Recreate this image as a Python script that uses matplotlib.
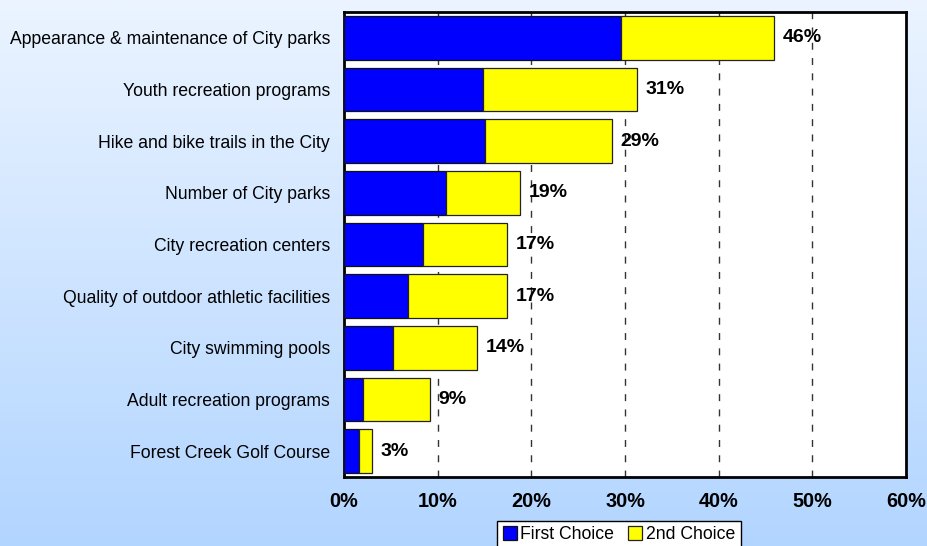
import numpy as np
import matplotlib
matplotlib.use("Agg")
import matplotlib.pyplot as plt
from matplotlib.colors import LinearSegmentedColormap

plt.rcParams['font.family'] = ['Liberation Sans', 'DejaVu Sans']

categories = [
    "Appearance & maintenance of City parks",
    "Youth recreation programs",
    "Hike and bike trails in the City",
    "Number of City parks",
    "City recreation centers",
    "Quality of outdoor athletic facilities",
    "City swimming pools",
    "Adult recreation programs",
    "Forest Creek Golf Course",
]
first_choice = [29.6, 14.8, 15.0, 10.9, 8.4, 6.8, 5.2, 2.0, 1.6]
second_choice = [16.3, 16.5, 13.6, 7.9, 9.0, 10.6, 9.0, 7.2, 1.4]
x_ticks = [0, 10, 20, 30, 40, 50, 60]
series_names = ["First Choice", "2nd Choice"]

fig = plt.figure(figsize=(9.28, 5.46), dpi=100)

# vertical background gradient
bg = fig.add_axes([0, 0, 1, 1], zorder=-10)
cmap = LinearSegmentedColormap.from_list("bg", ["#ebf4ff", "#b2d5ff"])
bg.imshow(np.linspace(0, 1, 256).reshape(-1, 1), aspect="auto", cmap=cmap,
          extent=[0, 1, 0, 1], origin="upper")
bg.set_axis_off()

ax = fig.add_axes([344 / 928, 1 - 477 / 546, 562 / 928, 465 / 546])
ax.set_facecolor("white")

y = np.arange(len(categories))
totals = [a + b for a, b in zip(first_choice, second_choice)]
ax.barh(y, first_choice, height=0.85, color="#0000ff", edgecolor="#111111",
        linewidth=0.9, zorder=3, label=series_names[0])
ax.barh(y, second_choice, left=first_choice, height=0.85, color="#ffff00",
        edgecolor="#222222", linewidth=0.9, zorder=3, label=series_names[1])

for yi, t in zip(y, totals):
    ax.annotate(f"{round(t):.0f}%", xy=(t, yi), xytext=(6, 0),
                textcoords="offset points", va="center", ha="left",
                fontsize=14, fontweight="bold", color="black", zorder=4)

ax.set_xlim(0, 60)
ax.set_ylim(len(categories) - 0.5, -0.5)
ax.set_xticks(x_ticks)
ax.set_xticklabels([f"{v}%" for v in x_ticks], fontsize=14.3, fontweight="bold")
ax.set_yticks(y)
ax.set_yticklabels(categories, fontsize=12.7)
ax.tick_params(axis="x", length=0, pad=11)
ax.tick_params(axis="y", length=0, pad=10)

for v in x_ticks[1:-1]:
    ax.axvline(v, color="#333333", linewidth=1.0, linestyle=(0, (5, 6)), zorder=1)

for s in ax.spines.values():
    s.set_linewidth(2.0)
    s.set_color("black")

leg = fig.legend(loc="upper center", bbox_to_anchor=(619 / 928, 1 - 521 / 546),
                 ncol=2, frameon=True, fancybox=False, fontsize=12.7,
                 handlelength=0.8, handleheight=0.8, handletextpad=0.2,
                 columnspacing=0.8, borderpad=0.3, borderaxespad=0)
leg.get_frame().set_edgecolor("black")
leg.get_frame().set_linewidth(1.0)
leg.get_frame().set_facecolor("white")
leg.get_frame().set_alpha(1)

fig.savefig("out.png", dpi=100)
